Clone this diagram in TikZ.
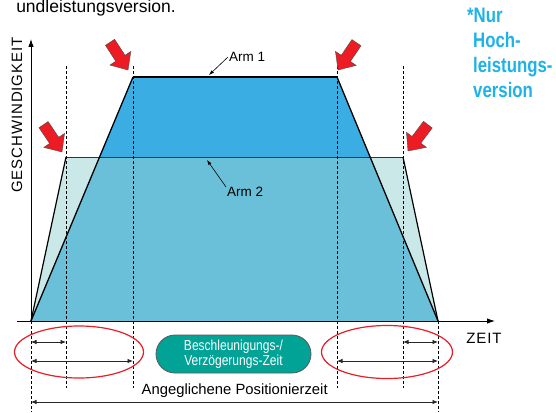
\documentclass[tikz,border=0pt]{standalone}
\usepackage{fontspec}
\setmainfont{Liberation Sans}
\newfontfamily\narrowfont[FakeStretch=0.83]{Liberation Sans}
\newfontfamily\bluefont[FakeStretch=0.8]{Liberation Sans}
\newfontfamily\spacedfont[LetterSpace=6]{Liberation Sans}
\usetikzlibrary{arrows.meta}
\definecolor{armone}{RGB}{58,174,227}
\definecolor{armmid}{RGB}{106,192,216}
\definecolor{armlight}{RGB}{203,232,232}
\definecolor{boxgreen}{RGB}{0,163,150}
\definecolor{redarrow}{RGB}{237,28,36}
\definecolor{ellred}{RGB}{230,30,40}
\definecolor{cyantext}{RGB}{30,178,232}
\begin{document}
\begin{tikzpicture}[x=1pt,y=-1pt,
  dline/.style={dash pattern=on 3pt off 2pt, line width=0.9pt},
  dimarr/.style={{Latex[length=5.5pt,width=4.5pt]}-{Latex[length=5.5pt,width=4.5pt]}, line width=0.8pt, black!85},
  axisarr/.style={-{Latex[length=8pt,width=5.5pt]}, line width=0.9pt},
  lblarr/.style={-{Latex[length=5pt,width=3.5pt]}, line width=0.6pt},
  redshape/.style={fill=redarrow, draw=black!70, line width=0.4pt},
  armlabel/.style={font=\fontsize{13.5}{15}\selectfont, inner sep=1pt},
  ellipsestyle/.style={draw=ellred, line width=1.2pt}]
\useasboundingbox (0,0) rectangle (556,412);

% key points
\coordinate (O) at (31,321);
\coordinate (E) at (438,321);
\coordinate (A1l) at (133,77);
\coordinate (A1r) at (337,77);
\coordinate (A2l) at (66,157);
\coordinate (A2r) at (403,157);

% fills
\fill[armlight] (O) -- (A2l) -- (A2r) -- (E) -- cycle;
\fill[armone] (O) -- (A1l) -- (A1r) -- (E) -- cycle;
\begin{scope}
  \clip (O) -- (A2l) -- (A2r) -- (E) -- cycle;
  \fill[armmid] (O) -- (A1l) -- (A1r) -- (E) -- cycle;
\end{scope}

% outlines
\draw[line width=1.2pt] (O) -- (A2l);
\draw[line width=0.9pt, black!80] (A2l) -- (A2r);
\draw[line width=1.2pt] (A2r) -- (E);
\draw[line width=1.3pt] (O) -- (A1l);
\draw[line width=2pt] (A1l) -- (A1r);
\draw[line width=1.3pt] (A1r) -- (E);

% dashed guides
\draw[dline] (66,66) -- (66,388);
\draw[dline] (133,66) -- (133,388);
\draw[dline] (337,66) -- (337,388);
\draw[dline] (403,66) -- (403,388);
\draw[dline] (31,321) -- (31,412);
\draw[dline] (438,321) -- (438,412);

% axes
\coordinate (xend) at (495,321);
\coordinate (xstart) at (17,321);
\coordinate (ytop) at (31,39);
\draw[axisarr] (xstart) -- (xend);
\draw[axisarr] (O) -- (ytop);
\node[font=\spacedfont\fontsize{15}{17}\selectfont, rotate=90] (vlabel) at (17,115) {GESCHWINDIGKEIT};
\node[font=\spacedfont\fontsize{15}{17}\selectfont] (tlabel) at (484,338.5) {ZEIT};

% arm labels
\node[armlabel, anchor=west] (arm1) at (228,57) {Arm 1};
\coordinate (arm1pt) at (209,75);
\draw[lblarr] (arm1.west) -- (arm1pt);
\node[armlabel, anchor=west] (arm2) at (226,192) {Arm 2};
\coordinate (arm2pt) at (207,160);
\draw[lblarr] ([yshift=5pt]arm2.west) -- (arm2pt);

% red arrows
\foreach \tx/\ty/\ang in {128/70/-57, 62/152/-56, 338/70/-124, 408/151/-127}{
  \draw[redshape, shift={(\tx,\ty)}, rotate=\ang]
    (0pt,0pt) -- (-14pt,12.5pt) -- (-14pt,5.5pt) -- (-33pt,5.5pt) -- (-33pt,-5.5pt) -- (-14pt,-5.5pt) -- (-14pt,-12.5pt) -- cycle;
}

% bottom dimension arrows
\coordinate (la1) at (31,342);  \coordinate (la2) at (66,342);
\coordinate (lb1) at (31,361);  \coordinate (lb2) at (133,361);
\coordinate (ra1) at (403,342); \coordinate (ra2) at (438,342);
\coordinate (rb1) at (337,361); \coordinate (rb2) at (438,361);
\coordinate (tt1) at (31,402);  \coordinate (tt2) at (438,402);
\draw[dimarr] (la1) -- (la2);
\draw[dimarr] (lb1) -- (lb2);
\draw[dimarr] (ra1) -- (ra2);
\draw[dimarr] (rb1) -- (rb2);
\draw[dimarr] (tt1) -- (tt2);

% ellipses
\draw[ellipsestyle] (79,352) ellipse [x radius=64.5pt, y radius=26pt];
\draw[ellipsestyle] (387,352) ellipse [x radius=65.5pt, y radius=26.5pt];

% green box
\node[fill=boxgreen, draw=black!65, line width=0.8pt, rounded corners=19pt,
      minimum width=155pt, minimum height=38pt, text=white, align=center, inner sep=0pt,
      font=\narrowfont\fontsize{14.5}{15.5}\selectfont] (bvz) at (233.5,354) {Beschleunigungs-/\\Verzögerungs-Zeit};

% total time label
\node[font=\fontsize{14.8}{17}\selectfont, inner sep=1pt] (ptime) at (234.7,391) {Angeglichene Positionierzeit};

% top-left clipped text
\node[font=\fontsize{17.5}{20}\selectfont, anchor=base east, inner sep=0pt] (toptext) at (176,13) {undleistungsversion.};

% note
\node[font=\bluefont\bfseries\fontsize{21}{25}\selectfont, text=cyantext, anchor=north west, align=left, inner sep=0pt] (note) at (467,8)
  {*Nur\\\hspace*{6pt}Hoch-\\\hspace*{6pt}leistungs-\\\hspace*{6pt}version};
\end{tikzpicture}
\end{document}
